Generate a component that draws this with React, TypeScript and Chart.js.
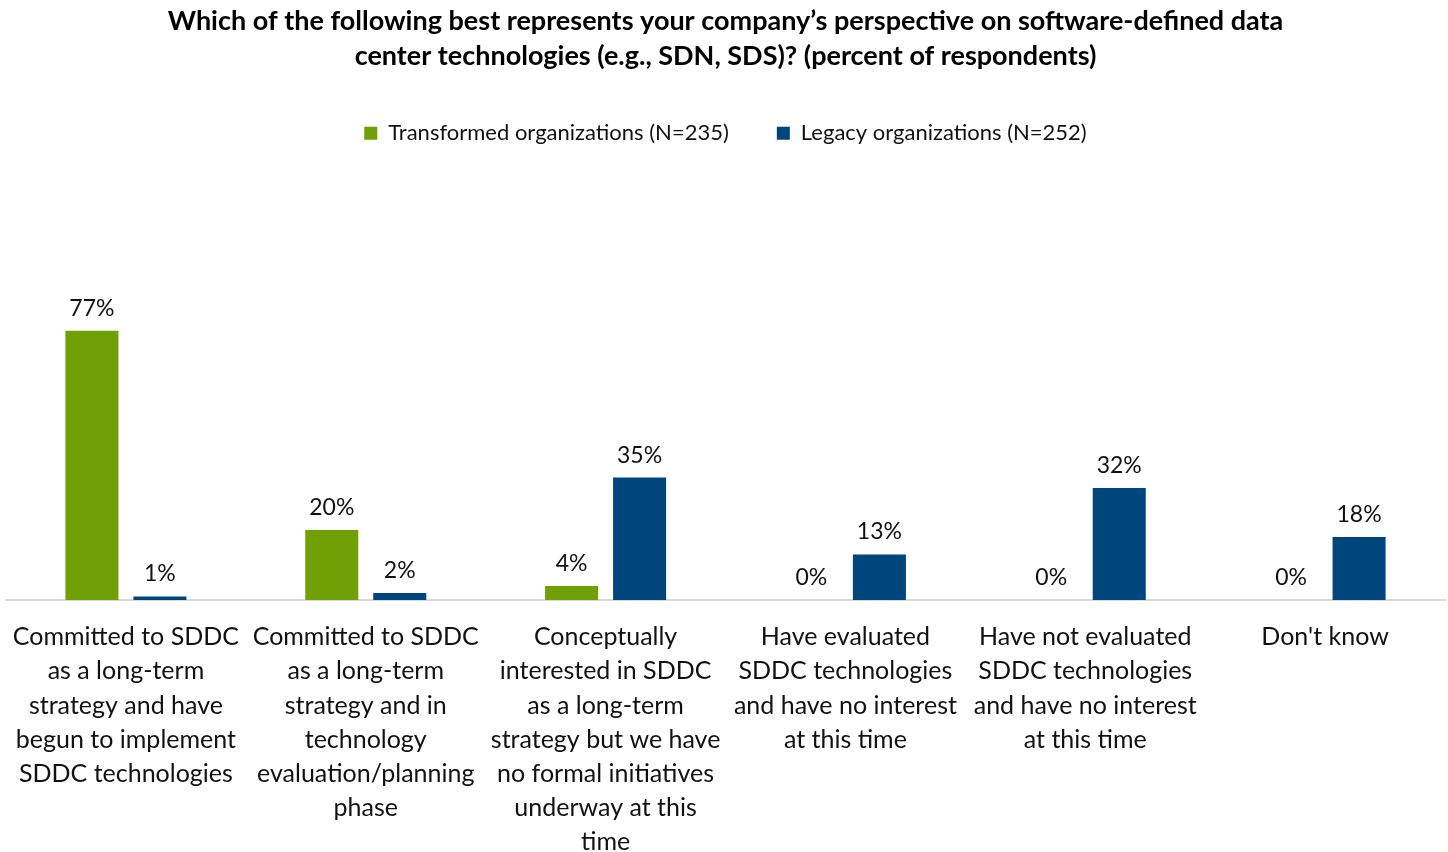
import React, { useEffect, useRef } from "react";
import { Chart, registerables } from "chart.js";

Chart.register(...registerables);

const titleLines = [
  "Which of the following best represents your company\u2019s perspective on software-defined data",
  "center technologies (e.g., SDN, SDS)? (percent of respondents)",
];

const categories: string[][] = [
  ["Committed to SDDC", "as a long-term", "strategy and have", "begun to implement", "SDDC technologies"],
  ["Committed to SDDC", "as a long-term", "strategy and in", "technology", "evaluation/planning", "phase"],
  ["Conceptually", "interested in SDDC", "as a long-term", "strategy but we have", "no formal initiatives", "underway at this", "time"],
  ["Have evaluated", "SDDC technologies", "and have no interest", "at this time"],
  ["Have not evaluated", "SDDC technologies", "and have no interest", "at this time"],
  ["Don't know"],
];

const seriesNames = ["Transformed organizations (N=235)", "Legacy organizations (N=252)"];
const transformed = [77, 20, 4, 0, 0, 0];
const legacy = [1, 2, 35, 13, 32, 18];

const GREEN = "#6FA106";
const BLUE = "#00457C";
const FONT = "Lato, 'Open Sans', sans-serif";

const dataLabels = {
  id: "dataLabels",
  afterDatasetsDraw(chart: any) {
    const ctx = chart.ctx;
    ctx.save();
    ctx.fillStyle = "#111111";
    ctx.font = `23px ${FONT}`;
    ctx.textAlign = "center";
    ctx.textBaseline = "bottom";
    chart.data.datasets.forEach((ds: any, i: number) => {
      const meta = chart.getDatasetMeta(i);
      meta.data.forEach((el: any, j: number) => {
        ctx.fillText(`${ds.data[j]}%`, el.x, el.y - 11);
      });
    });
    ctx.restore();
  },
};

export default function App() {
  const ref = useRef<HTMLCanvasElement | null>(null);
  useEffect(() => {
    if (!ref.current) return;
    const chart = new Chart(ref.current, {
      type: "bar",
      data: {
        labels: categories,
        datasets: [
          { label: seriesNames[0], data: transformed, backgroundColor: GREEN, barPercentage: 0.78, categoryPercentage: 0.567 },
          { label: seriesNames[1], data: legacy, backgroundColor: BLUE, barPercentage: 0.78, categoryPercentage: 0.567 },
        ],
      },
      options: {
        animation: false,
        responsive: false,
        maintainAspectRatio: false,
        layout: { padding: { left: 6, right: 3, top: 0, bottom: 0 } },
        plugins: {
          title: {
            display: true,
            text: titleLines,
            color: "#000000",
            font: { family: FONT, size: 27, weight: "bold", lineHeight: 1.3 },
            padding: { top: 4, bottom: 0 },
          },
          legend: {
            display: true,
            position: "top",
            labels: {
              color: "#111111",
              font: { family: FONT, size: 22 },
              boxWidth: 13,
              boxHeight: 13,
              padding: 48,
            },
          },
          tooltip: { enabled: false },
        },
        scales: {
          x: {
            grid: { display: false, drawTicks: false },
            border: { display: true, color: "#D9D9D9", width: 2 },
            ticks: {
              color: "#111111",
              font: { family: FONT, size: 25, lineHeight: 1.368 },
              padding: 20,
              maxRotation: 0,
              autoSkip: false,
            },
            afterFit: (scale: any) => {
              scale.height = 252;
              scale.paddingLeft = 0;
              scale.paddingRight = 0;
            },
          },
          y: {
            display: false,
            min: 0,
            max: 127.5,
          },
        },
      },
      plugins: [dataLabels],
    });
    return () => chart.destroy();
  }, []);
  return (
    <div style={{ position: "fixed", left: 0, top: 0, width: 1448, height: 852, background: "#fff" }}>
      <canvas ref={ref} width={1448} height={852} style={{ width: 1448, height: 852 }} />
    </div>
  );
}
